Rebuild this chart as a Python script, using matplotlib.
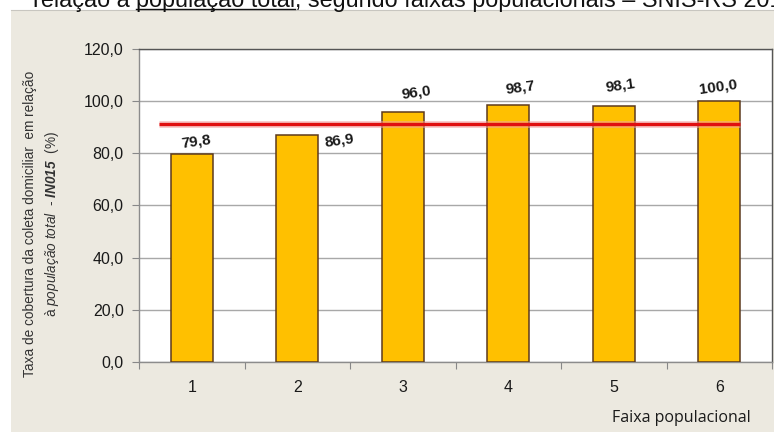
import matplotlib
matplotlib.use("Agg")
import matplotlib.pyplot as plt
from matplotlib.patches import Rectangle
from matplotlib.lines import Line2D

# ---- data ----
categories = ["1", "2", "3", "4", "5", "6"]
values = [79.8, 86.9, 96.0, 98.7, 98.1, 100.0]
value_labels = ["79,8", "86,9", "96,0", "98,7", "98,1", "100,0"]
reference_value = 91.1
y_ticks = [0, 20, 40, 60, 80, 100, 120]
y_tick_labels = ["0,0", "20,0", "40,0", "60,0", "80,0", "100,0", "120,0"]
x_title = "Faixa populacional"
y_title_1 = "Taxa de cobertura da coleta domiciliar  em relação"
top_text_a = "relação à "
top_text_b = "população total"
top_text_c = ", segundo faixas populacionais – SNIS-RS 2014"

# label placement offsets (styling)
label_dx = [0.04, 0.40, 0.13, 0.11, 0.06, -0.01]
label_dy = [4.6, -1.8, 7.5, 6.7, 8.1, 5.4]

plt.rcParams["mathtext.fontset"] = "custom"
plt.rcParams["mathtext.rm"] = "Liberation Sans"
plt.rcParams["mathtext.it"] = "Liberation Sans:italic"
plt.rcParams["mathtext.bf"] = "Liberation Sans:bold:italic"

W, H = 774, 432
fig = plt.figure(figsize=(W / 100, H / 100), dpi=100)
fig.patch.set_facecolor("white")

beige = "#ECE9E0"
fig.add_artist(Rectangle((11 / W, 0), 1 - 11 / W, 1 - 10 / H, transform=fig.transFigure,
                         facecolor=beige, edgecolor="none", zorder=-10))
fig.add_artist(Line2D([11 / W, 1], [1 - 10 / H, 1 - 10 / H], transform=fig.transFigure,
                      color="#C8C6C0", lw=0.8, zorder=-9))

# top cut-off caption
fs_top = 16.8
renderer = fig.canvas.get_renderer()
x0 = 33 / W
yb = 1 - 7 / H
ta = fig.text(x0, yb, top_text_a, fontsize=fs_top, family="Liberation Sans", va="baseline", color="#111111")
bb = ta.get_window_extent(renderer)
tb = fig.text(bb.x1 / W, yb, top_text_b, fontsize=fs_top, family="Liberation Sans", va="baseline", color="#111111")
bb2 = tb.get_window_extent(renderer)
fig.text(bb2.x1 / W, yb, top_text_c, fontsize=fs_top, family="Liberation Sans", va="baseline", color="#111111")
fig.add_artist(Line2D([bb2.x0 / W, bb2.x1 / W], [1 - 8.5 / H, 1 - 8.5 / H], transform=fig.transFigure,
                      color="#111111", lw=1.0))

ax = fig.add_axes([139 / W, 70 / H, (772 - 139) / W, (362 - 49) / H])
ax.set_facecolor("white")
xs = list(range(len(categories)))
ax.bar(xs, values, width=0.4, color="#FFC000", edgecolor="#5C3A1E", linewidth=1.1, zorder=3)

ax.set_xlim(-0.5, len(categories) - 0.5)
ax.set_ylim(0, 120)
ax.set_yticks(y_ticks)
ax.set_yticklabels(y_tick_labels, fontsize=11.5, family="Liberation Sans", color="#1a1a1a")
ax.yaxis.grid(True, color="#A8A8A8", lw=1.0, zorder=0)
ax.set_axisbelow(True)

# x ticks at boundaries, labels at centers
ax.set_xticks([i - 0.5 for i in range(len(categories) + 1)])
ax.set_xticklabels([])
ax.set_xticks(xs, minor=True)
ax.set_xticklabels(categories, minor=True, fontsize=11.5, family="Liberation Sans", color="#1a1a1a")
ax.tick_params(axis="x", which="major", length=5, color="#888888", direction="out")
ax.tick_params(axis="x", which="minor", length=0, pad=13)
ax.tick_params(axis="y", length=5, color="#888888", pad=6)

for side in ["left", "bottom"]:
    ax.spines[side].set_color("#8C8C8C")
    ax.spines[side].set_linewidth(1.0)
for side in ["top", "right"]:
    ax.spines[side].set_color("#555555")
    ax.spines[side].set_linewidth(1.0)

# reference line
ax.hlines(reference_value, -0.31, 5.2, color="#F4A0A0", lw=5.0, alpha=0.55, zorder=4)
ax.hlines(reference_value, -0.31, 5.2, color="#E01010", lw=2.4, zorder=5)

for i, (v, lab) in enumerate(zip(values, value_labels)):
    ax.text(i + label_dx[i], v + label_dy[i], lab, ha="center", va="center", rotation=8,
            fontsize=11, fontweight="bold", family="Liberation Sans", color="#1a1a1a", zorder=6)

fig.text(612 / W, 1 - 418 / H, x_title, fontsize=11.5, family="Open Sans", va="center", ha="left",
         color="#1a1a1a")
fig.text(30 / W, 1 - 224 / H, y_title_1, rotation=90, fontsize=9.8, family="Liberation Sans",
         va="center", ha="center", color="#333333")
fig.text(52 / W, 1 - 224 / H, r"à $\mathit{população\ total}$  - $\mathbf{IN015}$  (%)", rotation=90,
         fontsize=9.8, family="Liberation Sans", va="center", ha="center", color="#333333")

fig.savefig("out.png", dpi=100, facecolor=fig.get_facecolor())
